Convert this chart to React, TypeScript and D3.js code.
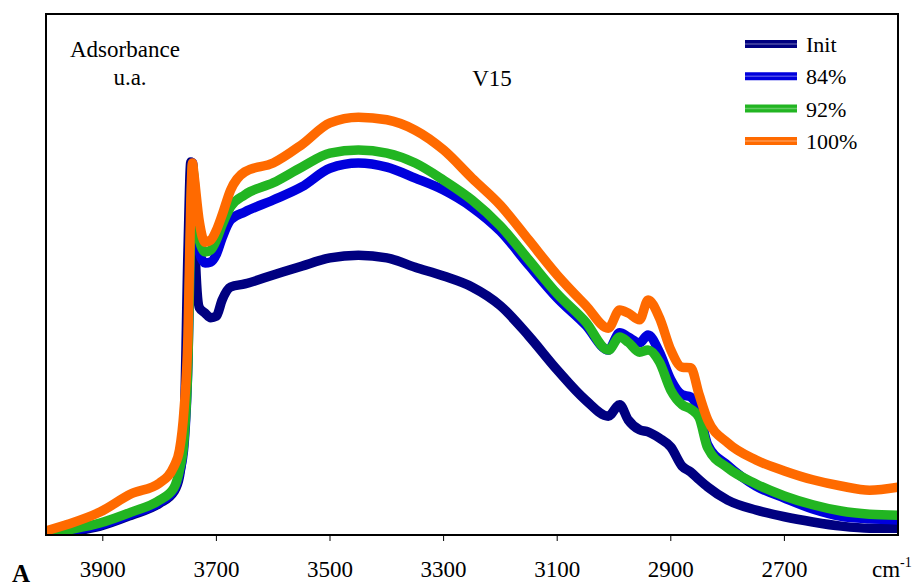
import * as d3 from "d3";

// wavenumbers (cm-1), shared by every spectrum
const wavenumbers = [
  4000, 3960, 3905, 3850, 3800, 3775, 3765, 3757, 3750, 3745, 3742, 3740, 3730, 3720, 3710, 3700,
  3690, 3675, 3650, 3600, 3550, 3500, 3450, 3400, 3350, 3300, 3250, 3200, 3150, 3100, 3050, 3010,
  2990, 2975, 2955, 2940, 2920, 2900, 2880, 2865, 2850, 2835, 2800, 2750, 2700, 2650, 2600, 2550, 2500,
];

// absorbance, arbitrary units
const initValues = [
  0.0, 0.6, 1.7, 3.8, 6.1, 8.3, 11.3, 20.2, 54.7, 71.6, 70.1, 62.4, 43.6, 42.6, 41.7, 42.0,
  45.1, 47.6, 48.2, 49.9, 51.6, 53.2, 53.7, 53.2, 51.4, 49.7, 47.6, 44.0, 38.2, 31.7, 25.9, 22.8,
  25.0, 22.1, 20.2, 19.8, 18.6, 16.9, 13.2, 12.1, 10.6, 9.2, 6.7, 4.8, 3.5, 2.5, 1.7, 1.3, 1.3,
];
const values84 = [
  0.0, 0.8, 1.9, 4.0, 6.3, 8.6, 11.9, 17.3, 33.6, 60.5, 71.4, 68.1, 54.3, 52.2, 52.4, 53.9,
  57.0, 60.5, 62.0, 64.3, 66.8, 70.4, 71.4, 70.6, 68.5, 66.2, 62.9, 58.3, 51.8, 45.5, 40.3, 35.5,
  38.8, 38.0, 36.9, 38.4, 35.1, 29.8, 26.9, 26.5, 23.6, 17.3, 13.4, 9.4, 7.1, 5.0, 3.6, 3.1, 2.9,
];
const values92 = [
  0.2, 1.0, 2.3, 4.4, 6.7, 9.0, 12.5, 18.2, 33.6, 60.5, 71.0, 69.1, 56.6, 54.3, 54.7, 56.6,
  59.5, 63.0, 65.3, 67.6, 70.6, 73.3, 73.9, 73.3, 71.4, 68.1, 64.3, 59.3, 52.8, 46.3, 40.9, 35.5,
  38.0, 37.0, 35.1, 35.5, 33.2, 27.8, 25.0, 24.2, 22.5, 16.7, 12.9, 9.8, 7.5, 5.8, 4.6, 4.0, 3.8,
];
const values100 = [
  0.8, 2.1, 4.4, 7.9, 10.0, 13.1, 16.3, 24.0, 38.4, 64.3, 71.4, 69.7, 60.1, 56.2, 56.6, 58.5,
  61.4, 66.2, 69.7, 71.4, 74.9, 79.1, 80.2, 79.7, 77.7, 73.9, 68.5, 63.3, 56.6, 49.9, 44.1, 39.7,
  43.2, 42.6, 41.3, 45.1, 41.7, 35.5, 32.2, 32.1, 26.9, 22.1, 17.7, 14.4, 12.3, 10.6, 9.4, 8.6, 9.2,
];

const seriesNames = ["Init", "84%", "92%", "100%"];
const seriesColors = ["#000080", "#0000dd", "#22b522", "#ff6a00"];
const seriesValues = [initValues, values84, values92, values100];
const xTicks = [3900, 3700, 3500, 3300, 3100, 2900, 2700];

const W = 919;
const H = 588;
const M = { left: 46, right: 21, top: 14, bottom: 53 };
const FONT = "'Liberation Serif', 'Times New Roman', serif";

export default function App() {
  const x = d3.scaleLinear().domain([4000, 2500]).range([M.left, W - M.right]);
  const y = d3.scaleLinear().domain([0, 100]).range([H - M.bottom, H - M.bottom - 521]);
  const line = d3
    .line<number>()
    .x((_, i) => x(wavenumbers[i]))
    .y((v) => y(v))
    .curve(d3.curveMonotoneX);

  const plotW = W - M.left - M.right;
  const plotH = H - M.top - M.bottom;
  const bottom = H - M.bottom;

  return (
    <svg
      width={W}
      height={H}
      style={{ position: "absolute", left: 0, top: 0, background: "#fff" }}
      fontFamily={FONT}
    >
      <defs>
        <clipPath id="plot">
          <rect x={M.left} y={M.top} width={plotW} height={plotH} />
        </clipPath>
      </defs>
      <rect x={0} y={0} width={W} height={H} fill="#fff" />

      <g clipPath="url(#plot)">
        {seriesValues.map((vals, i) => (
          <path
            key={seriesNames[i]}
            d={line(vals) ?? ""}
            fill="none"
            stroke={seriesColors[i]}
            strokeWidth={9.5}
            strokeLinejoin="round"
            strokeLinecap="round"
          />
        ))}
      </g>

      <rect x={M.left} y={M.top} width={plotW} height={plotH} fill="none" stroke="#000" strokeWidth={2} />

      {xTicks.map((t) => (
        <g key={t}>
          <line x1={x(t)} x2={x(t)} y1={bottom} y2={bottom + 6} stroke="#000" strokeWidth={1} />
          <text x={x(t)} y={577} textAnchor="middle" fontSize={23}>
            {t}
          </text>
        </g>
      ))}
      <text x={872} y={577} fontSize={23}>
        cm<tspan dy={-10} fontSize={14}>-1</tspan>
      </text>
      <text x={12} y={582} fontSize={25} fontWeight="bold">
        A
      </text>

      <text x={70} y={57} fontSize={23}>
        Adsorbance
      </text>
      <text x={130} y={85} fontSize={23} textAnchor="middle">
        u.a.
      </text>
      <text x={492} y={86} fontSize={23} textAnchor="middle">
        V15
      </text>

      {seriesNames.map((name, i) => {
        const ly = 44 + i * 32.3;
        return (
          <g key={name}>
            <line x1={745} x2={797} y1={ly} y2={ly} stroke={seriesColors[i]} strokeWidth={8} />
            <line x1={745} x2={797} y1={ly} y2={ly} stroke="#fff" strokeOpacity={0.3} strokeWidth={1.5} />
            <text x={806} y={ly + 8} fontSize={22}>
              {name}
            </text>
          </g>
        );
      })}
    </svg>
  );
}
